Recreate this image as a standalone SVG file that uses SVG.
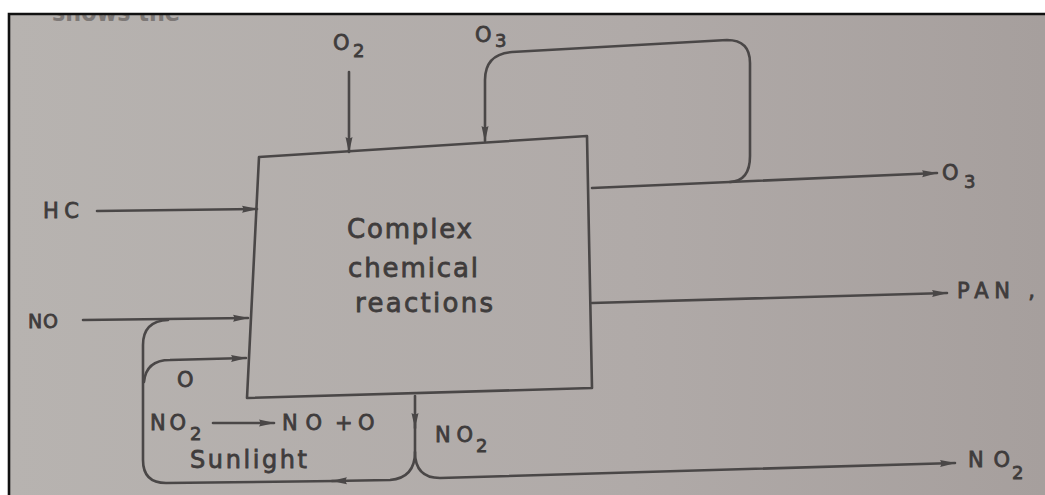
<svg xmlns="http://www.w3.org/2000/svg" width="1045" height="495" viewBox="0 0 1045 495">
<defs>
<linearGradient id="paper" x1="0" y1="0" x2="1" y2="0">
<stop offset="0" stop-color="#b7b3b0"/>
<stop offset="0.6" stop-color="#b0aaa8"/>
<stop offset="1" stop-color="#a69f9d"/>
</linearGradient>
<clipPath id="frameClip"><rect x="10" y="15" width="1035" height="480"/></clipPath>
<marker id="arr" viewBox="0 0 16 9" refX="15" refY="4.5" markerWidth="16" markerHeight="9" markerUnits="userSpaceOnUse" orient="auto">
<path d="M0,1 L16,4.5 L0,8 Q2.5,4.5 0,1 z" fill="#4a4747"/>
</marker>
<style>
.ln{fill:none;stroke:#4a4747;stroke-width:2.6;stroke-linecap:round;stroke-linejoin:round}
.t{font-family:"DejaVu Sans","Liberation Sans",sans-serif;fill:#3f3c3c;stroke:#3f3c3c;stroke-width:0.8}
.lb{font-size:21px}
.sub{font-size:18px}
.big{font-size:26px}
</style>
</defs>
<rect x="0" y="0" width="1045" height="495" fill="#ffffff"/>
<rect x="9" y="14" width="1036" height="481" fill="url(#paper)"/>
<g clip-path="url(#frameClip)">
<text x="52" y="21" font-family="DejaVu Sans, sans-serif" font-size="24" font-weight="bold" fill="#6a6564" opacity="0.75" textLength="128" lengthAdjust="spacingAndGlyphs">shows the</text>
</g>
<path d="M9,495 L9,14 L1045,14" fill="none" stroke="#111" stroke-width="2.6"/>

<g id="reactor">
<polygon points="259,157 587,136 592,388 247,398" fill="none" stroke="#4a4747" stroke-width="2.6" stroke-linejoin="round"/>
<text class="t big" x="347" y="238" textLength="125" lengthAdjust="spacing">Complex</text>
<text class="t big" x="348" y="277" textLength="130" lengthAdjust="spacing">chemical</text>
<text class="t big" x="355" y="312" textLength="138" lengthAdjust="spacing">reactions</text>
</g>

<g id="input-o2">
<text class="t lb" x="333" y="50">O</text>
<text class="t sub" x="353" y="57">2</text>
</g>
<g id="input-o3">
<text class="t lb" x="475" y="42">O</text>
<text class="t sub" x="495" y="47">3</text>
</g>
<g id="input-hc">
<text class="t lb" x="43" y="218" textLength="36" lengthAdjust="spacing">HC</text>
</g>
<g id="input-no">
<text class="t" font-size="19" x="28" y="328" textLength="30" lengthAdjust="spacing">NO</text>
</g>
<g id="output-o3">
<text class="t lb" x="942" y="180">O</text>
<text class="t sub" x="964" y="188">3</text>
</g>
<g id="output-pan">
<text class="t lb" x="957" y="298" textLength="78" lengthAdjust="spacing">PAN ,</text>
</g>
<g id="output-no2">
<text class="t lb" x="968" y="467" textLength="42" lengthAdjust="spacing">NO</text>
<text class="t sub" x="1012" y="479">2</text>
</g>
<g id="photolysis">
<text class="t lb" x="177" y="387">O</text>
<text class="t lb" x="150" y="430" textLength="36" lengthAdjust="spacing">NO</text>
<text class="t sub" x="190" y="440">2</text>
<text class="t lb" x="282" y="430" textLength="40" lengthAdjust="spacing">NO</text>
<text class="t lb" x="335" y="430">+</text>
<text class="t lb" x="358" y="430">O</text>
<text class="t" font-size="24" x="190" y="468" textLength="117" lengthAdjust="spacing">Sunlight</text>
</g>
<g id="label-no2-mid">
<text class="t lb" x="435" y="442" textLength="38" lengthAdjust="spacing">NO</text>
<text class="t sub" x="476" y="452">2</text>
</g>

<g id="connectors">
<path class="ln" d="M349,72 L349,152" marker-end="url(#arr)"/>
<path class="ln" d="M730,182 Q750,181 750,156 L750,63 Q750,40 727,40 L512,52 Q485,54 485,80 L485,141" marker-end="url(#arr)"/>
<path class="ln" d="M97,211 L257,209" marker-end="url(#arr)"/>
<path class="ln" d="M83,320 L248,318" marker-end="url(#arr)"/>
<path class="ln" d="M592,188 L937,173" marker-end="url(#arr)"/>
<path class="ln" d="M592,303 L947,293" marker-end="url(#arr)"/>
<path class="ln" d="M415,396 L415,428" marker-end="url(#arr)"/>
<path class="ln" d="M415,424 L415,452 Q415,478 390,480 L332,481" marker-end="url(#arr)"/>
<path class="ln" d="M336,481 L166,483 Q143,483 143,460 L143,345 Q143,321 168,320"/>
<path class="ln" d="M144,382 Q146,360 170,360 L246,358" marker-end="url(#arr)"/>
<path class="ln" d="M415,452 Q415,478 440,478 L955,463" marker-end="url(#arr)"/>
<path class="ln" d="M213,423 L274,423" marker-end="url(#arr)"/>
</g>
</svg>
